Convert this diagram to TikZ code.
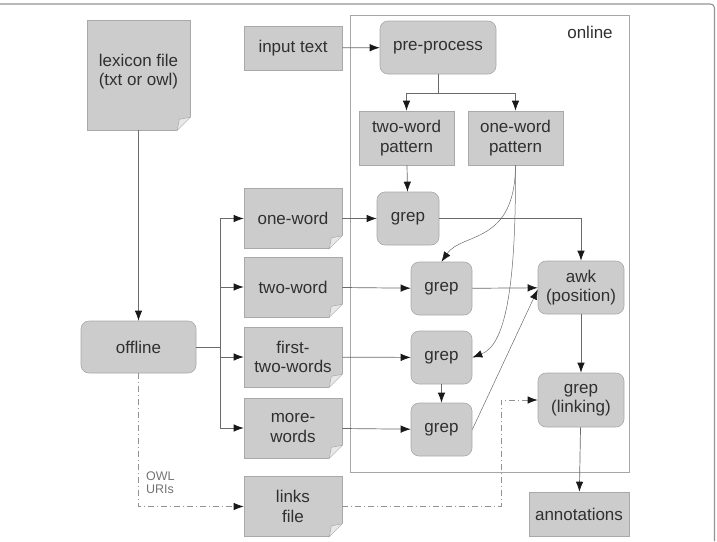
\documentclass[tikz,border=0pt]{standalone}
\usepackage{fontspec}
\setmainfont{Liberation Sans}
\usepackage{xcolor}
\usetikzlibrary{arrows.meta, positioning}

\definecolor{boxgray}{HTML}{CCCCCC}
\definecolor{edgegray}{HTML}{A9A9A9}
\definecolor{linegray}{HTML}{6A6A6A}
\definecolor{txtgray}{HTML}{303030}

\begin{document}
\begin{tikzpicture}[x=1pt, y=-1pt, >={Latex[length=10pt,width=7.5pt,color=black!90]},
        every node/.style={font=\fontsize{17}{19.5}\selectfont, text=txtgray},
        block/.style={rectangle, draw=edgegray, fill=boxgray, align=center, inner sep=2pt, line width=0.6pt},
        proc/.style={block, rounded corners=8pt},
        doc/.style={block, minimum width=98pt, minimum height=60pt},
        arr/.style={->, draw=linegray, line width=0.7pt},
        link/.style={arr, draw=gray!85, dash pattern=on 6pt off 3pt on 1pt off 3pt}]

    \useasboundingbox (0,0) rectangle (717,541);
    \draw[gray!85, line width=1.1pt, rounded corners=4pt] (0,4) -- (714.5,4) -- (714.5,541);

    % online part
    \draw[gray!70, line width=0.7pt] (350,15) rectangle (629,472);
    \node (onl) at (590,32) {online};

    \node (lex) [block, minimum width=103pt, minimum height=110pt] at (138.5,75) {lexicon file\\(txt or owl)\\[-9pt]};
    \node (input) [block, minimum width=98pt, minimum height=44pt] at (293,48) {input text};
    \node (pre) [proc, minimum width=116pt, minimum height=53pt] at (438,47.5) {pre-process};
    \node (twoPat) [block, minimum width=95pt, minimum height=54pt] at (406.5,138) {two-word\\pattern};
    \node (onePat) [block, minimum width=95pt, minimum height=54pt] at (515.5,138) {one-word\\pattern};

    \node (offline) [proc, minimum width=115pt, minimum height=52pt] at (138.5,347) {offline};
    \node (oneW) [doc] at (293,218.5) {one-word};
    \node (twoW) [doc] at (293,287) {two-word};
    \node (firstW) [doc] at (293,357) {first-\\two-words};
    \node (moreW) [doc] at (293,428) {more-\\words};
    \node (links) [doc] at (293,506.5) {links\\file};

    \node (grepA) [proc, minimum width=62pt, minimum height=53pt] at (408,218.5) {grep};
    \node (grepB) [proc, minimum width=61pt, minimum height=53pt] at (441.5,288.5) {grep};
    \node (grepC) [proc, minimum width=61pt, minimum height=53pt] at (441.5,357.5) {grep};
    \node (grepD) [proc, minimum width=61pt, minimum height=53pt] at (441.5,429.5) {grep};
    \node (awk) [proc, minimum width=86pt, minimum height=53pt] at (581,287.5) {awk\\(position)};
    \node (glink) [proc, minimum width=86pt, minimum height=54pt] at (581,400) {grep\\(linking)};
    \node (annot) [block, minimum width=100pt, minimum height=44pt] at (579,514) {annotations};

    % folded corners of the files
    \foreach \n in {lex, oneW, twoW, firstW, moreW, links} {
        \fill[white] ([xshift=-13pt]\n.south east) -- ([yshift=13pt]\n.south east)
            -- ([xshift=1pt, yshift=14pt]\n.south east) -- ([xshift=1pt, yshift=-1pt]\n.south east)
            -- ([xshift=-14pt, yshift=-1pt]\n.south east) -- cycle;
        \filldraw[fill=gray!18, draw=edgegray, line width=0.5pt] ([xshift=-13pt]\n.south east)
            -- ([yshift=13pt]\n.south east) -- ([xshift=-11pt, yshift=11pt]\n.south east) -- cycle;
    }

    \coordinate (split) at (220,347);
    \coordinate (ppsplit) at (438,93);

    \draw[arr] (lex) -- (offline);
    \draw[arr] (input) -- (pre);
    \draw[linegray, line width=0.7pt] (pre) -- (ppsplit);
    \draw[arr] (ppsplit) -| (twoPat);
    \draw[arr] (ppsplit) -| (onePat);
    \draw[arr] (twoPat) -- (grepA);

    \draw[linegray, line width=0.7pt] (offline) -- (split);
    \foreach \n in {oneW, twoW, firstW, moreW}
        \draw[arr] (split) |- (\n);

    \draw[arr] (oneW) -- (grepA);
    \draw[arr] (twoW) -- (grepB);
    \draw[arr] (firstW) -- (grepC);
    \draw[arr] (moreW) -- (grepD);
    \draw[arr] (grepC) -- (grepD);

    \draw[arr, line width=0.5pt] (onePat.south) .. controls (515,245) and (462,232) .. (grepB.north);
    \draw[arr, line width=0.5pt] (onePat.south) .. controls (516,290) and (505,345) .. (grepC.east);

    \draw[arr] (grepA) -| (awk);
    \draw[arr] (grepB) -- (awk);
    \draw[arr, line width=0.5pt] (grepD.east) -- ([yshift=-2pt]awk.west);
    \draw[arr] (awk) -- (glink);
    \draw[arr] (glink) -- (annot);

    % links
    \draw[link] (offline) |- (links) node[pos=0.41, anchor=west, xshift=4pt, align=left, text=gray!90!black, font=\fontsize{12.5}{13.5}\selectfont] {OWL\\URIs};
    \draw[link] (links) -- (501,506.5) |- (glink);
\end{tikzpicture}
\end{document}
